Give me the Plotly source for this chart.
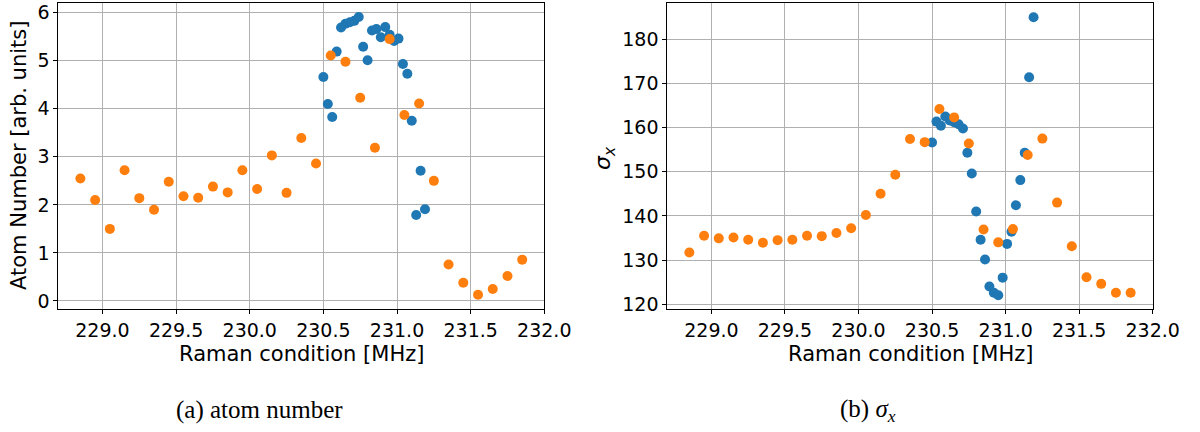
import numpy as np
import plotly.graph_objects as go

# Coarse sweep (orange) and fine sweep (blue) of the Raman condition, in MHz
freq_coarse = [228.85, 228.95, 229.05, 229.15, 229.25, 229.35, 229.45, 229.55,
               229.65, 229.75, 229.85, 229.95, 230.05, 230.15, 230.25, 230.35,
               230.45, 230.55, 230.65, 230.75, 230.85, 230.95, 231.05, 231.15,
               231.25, 231.35, 231.45, 231.55, 231.65, 231.75, 231.85]
freq_fine = [230.50, 230.53, 230.56, 230.59, 230.62, 230.65, 230.68, 230.71,
             230.74, 230.77, 230.80, 230.83, 230.86, 230.89, 230.92, 230.95,
             230.98, 231.01, 231.04, 231.07, 231.10, 231.13, 231.16, 231.19]

# Atom number [arb. units]
atoms_coarse = [2.55, 2.10, 1.50, 2.72, 2.14, 1.90, 2.48, 2.18, 2.15, 2.38,
                2.26, 2.72, 2.33, 3.03, 2.25, 3.39, 2.86, 5.11, 4.98, 4.23,
                3.19, 5.45, 3.87, 4.11, 2.50, 0.76, 0.38, 0.13, 0.25, 0.52,
                0.86]
atoms_fine = [4.66, 4.10, 3.83, 5.19, 5.69, 5.77, 5.80, 5.83, 5.91, 5.29,
              5.01, 5.63, 5.66, 5.49, 5.70, 5.54, 5.41, 5.46, 4.93, 4.73,
              3.75, 1.79, 2.71, 1.91]

# Cloud width sigma_x
sigma_coarse = [131.7, 135.5, 134.9, 135.1, 134.6, 133.9, 134.5, 134.6, 135.5,
                135.4, 136.1, 137.2, 140.2, 145.0, 149.3, 157.4, 156.7, 164.2,
                162.3, 156.4, 136.9, 134.0, 137.0, 153.8, 157.5, 143.0, 133.1,
                126.1, 124.6, 122.6, 122.6]
sigma_fine = [156.6, 161.35, 160.4, 162.5, 161.6, 161.2, 160.75, 159.8, 154.3,
              149.6, 141.0, 134.6, 130.1, 124.0, 122.6, 122.0, 126.0, 133.65,
              136.4, 142.4, 148.1, 154.3, 171.4, 185.0]

x_ticks = [229.0, 229.5, 230.0, 230.5, 231.0, 231.5, 232.0]
x_tick_text = ["229.0", "229.5", "230.0", "230.5", "231.0", "231.5", "232.0"]

BLUE = "#1f77b4"
ORANGE = "#ff7f0e"
W, H = 1200, 432

fig = go.Figure()

marker_size = 10
fig.add_trace(go.Scatter(x=freq_fine, y=atoms_fine, mode="markers",
                         marker=dict(color=BLUE, size=marker_size),
                         xaxis="x", yaxis="y", showlegend=False))
fig.add_trace(go.Scatter(x=freq_coarse, y=atoms_coarse, mode="markers",
                         marker=dict(color=ORANGE, size=marker_size),
                         xaxis="x", yaxis="y", showlegend=False))
fig.add_trace(go.Scatter(x=freq_fine, y=sigma_fine, mode="markers",
                         marker=dict(color=BLUE, size=marker_size),
                         xaxis="x2", yaxis="y2", showlegend=False))
fig.add_trace(go.Scatter(x=freq_coarse, y=sigma_coarse, mode="markers",
                         marker=dict(color=ORANGE, size=marker_size),
                         xaxis="x2", yaxis="y2", showlegend=False))

tick_font = dict(family="DejaVu Sans", size=19, color="#000000")
common = dict(showline=True, linecolor="#000000", linewidth=1, mirror=True,
              showgrid=True, gridcolor="#b0b0b0", gridwidth=1,
              zeroline=False, ticks="outside", ticklen=4, tickwidth=1,
              tickcolor="#000000", tickfont=tick_font, automargin=False)

ytop = 1 - 3.3 / H
ybot = 1 - 309 / H

fig.update_layout(
    width=W, height=H,
    margin=dict(l=0, r=0, t=0, b=0, autoexpand=False),
    paper_bgcolor="white", plot_bgcolor="white",
    xaxis=dict(domain=[58.3 / W, 544.3 / W], range=[228.7, 232.0],
               tickvals=x_ticks, ticktext=x_tick_text, anchor="y", **common),
    yaxis=dict(domain=[ybot, ytop], range=[-0.167, 6.195],
               tickvals=[0, 1, 2, 3, 4, 5, 6], anchor="x", **common),
    xaxis2=dict(domain=[667.3 / W, 1152.7 / W], range=[228.7, 232.0],
                tickvals=x_ticks, ticktext=x_tick_text, anchor="y2", **common),
    yaxis2=dict(domain=[ybot, ytop], range=[118.9, 188.15],
                tickvals=[120, 130, 140, 150, 160, 170, 180], anchor="x2",
                **common),
)

label_font = dict(family="DejaVu Sans", size=21, color="#000000")
caption_font = dict(family="Liberation Serif", size=25, color="#000000")

annotations = [
    dict(text="Raman condition [MHz]", x=301 / W, y=1 - 354 / H,
         font=label_font),
    dict(text="Raman condition [MHz]", x=910 / W, y=1 - 354 / H,
         font=label_font),
    dict(text="Atom Number [arb. units]", x=19 / W, y=1 - 156 / H,
         textangle=-90, font=label_font),
    dict(text="<i>σ<sub>x</sub></i>", x=605 / W, y=1 - 158 / H,
         textangle=-90, font=dict(family="DejaVu Sans", size=22,
                                   color="#000000")),
    dict(text="(a) atom number", x=259 / W, y=1 - 410 / H,
         font=caption_font),
    dict(text="(b) <i>σ<sub>x</sub></i>", x=868 / W, y=1 - 410 / H,
         font=caption_font),
]
for a in annotations:
    a.update(xref="paper", yref="paper", showarrow=False,
             xanchor="center", yanchor="middle")
fig.update_layout(annotations=annotations)

fig.write_html("out.html")
